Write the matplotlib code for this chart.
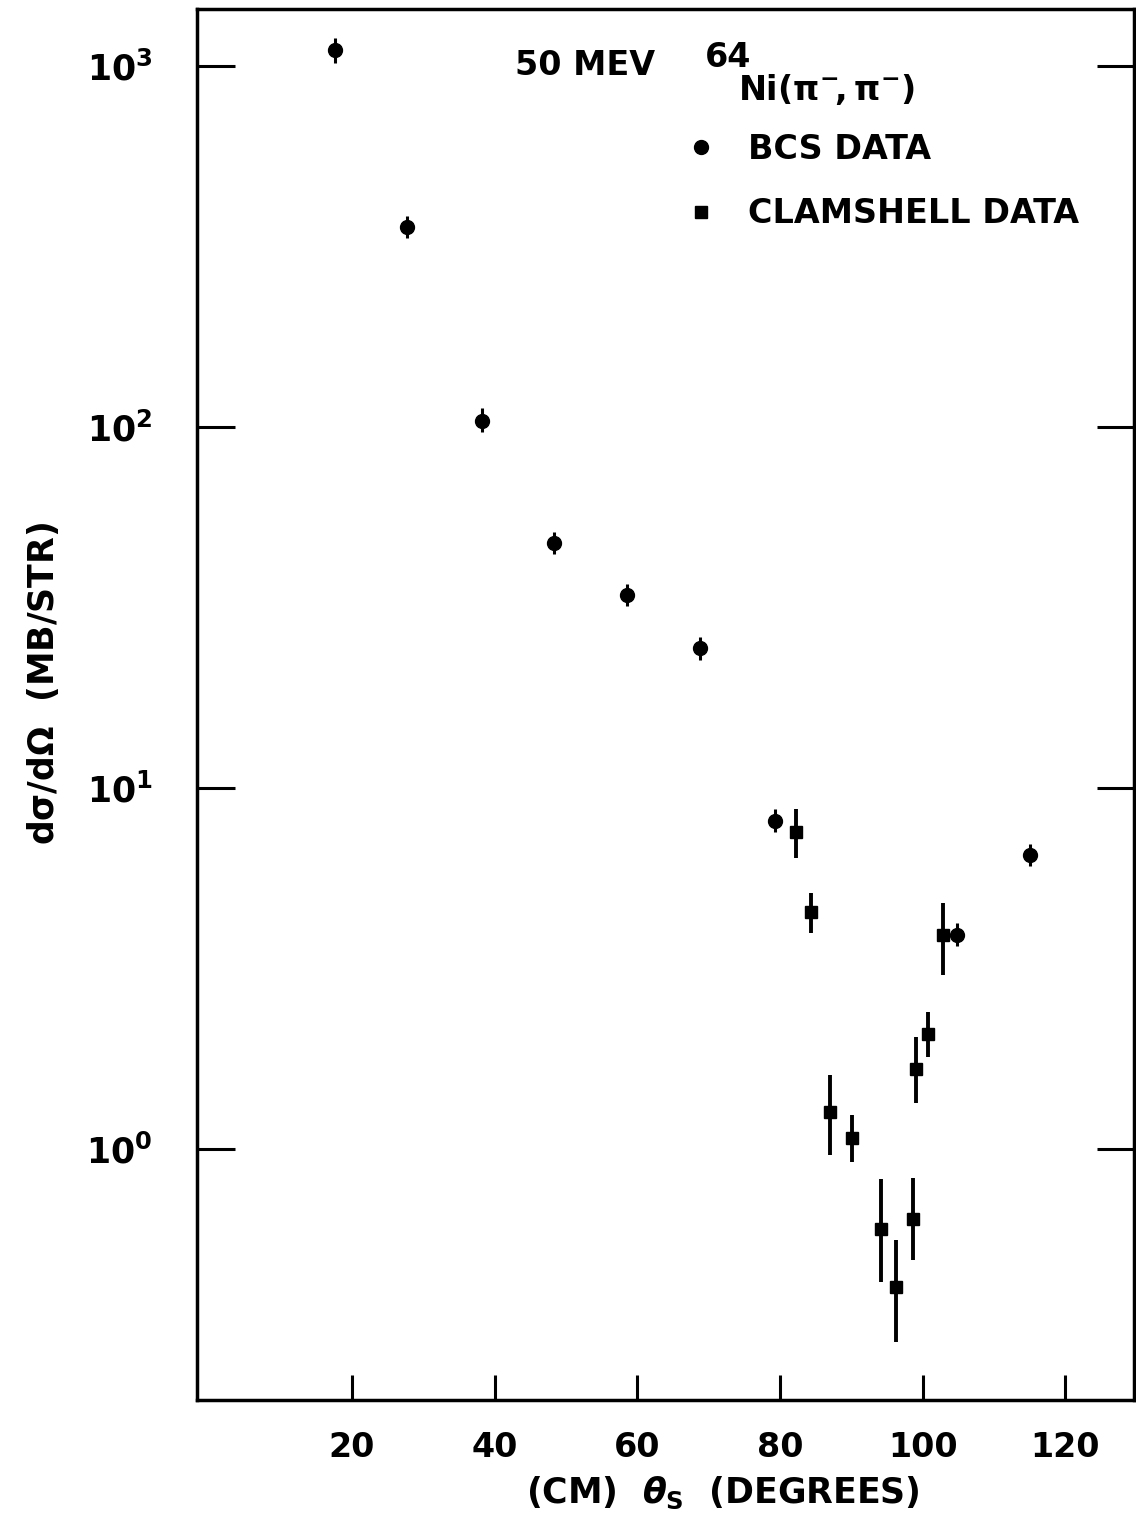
import numpy as np
import matplotlib
matplotlib.use("Agg")
import matplotlib.pyplot as plt
from matplotlib.lines import Line2D
from matplotlib.ticker import LogLocator, NullLocator, FixedLocator

# BCS data: scattering angle (deg), cross section and error limits (mb/sr)
bcs_theta = [17.6, 27.7, 38.3, 48.3, 58.5, 68.8, 79.3, 104.8, 115.0]
bcs_xs = [1107, 358, 104, 47.7, 34.3, 24.4, 8.12, 3.92, 6.52]
bcs_lo = [1019, 333, 97, 44.5, 32.0, 22.7, 7.55, 3.65, 6.07]
bcs_hi = [1196, 384, 113, 51.2, 36.8, 26.2, 8.73, 4.22, 7.01]

# Clamshell data
clam_theta = [82.2, 84.4, 87.0, 90.1, 94.1, 96.3, 98.6, 99.0, 100.8, 102.8]
clam_xs = [7.57, 4.54, 1.27, 1.071, 0.600, 0.416, 0.639, 1.666, 2.09, 3.92]
clam_lo = [6.40, 3.97, 0.962, 0.922, 0.429, 0.292, 0.493, 1.344, 1.80, 3.03]
clam_hi = [8.74, 5.12, 1.60, 1.24, 0.824, 0.56, 0.83, 2.04, 2.40, 4.79]

x_ticks = [20, 40, 60, 80, 100, 120]

plt.rcParams['font.family'] = ['DejaVu Sans']
plt.rcParams['font.weight'] = 'bold'
plt.rcParams['axes.labelweight'] = 'bold'
plt.rcParams['mathtext.fontset'] = 'dejavusans'
plt.rcParams['mathtext.default'] = 'regular'

W, H = 1136, 1531
fig = plt.figure(figsize=(W / 100, H / 100), dpi=100)
ax = fig.add_axes([197 / W, 1 - 1400 / H, (1134 - 197) / W, (1400 - 9) / H])

bcs = np.array(bcs_xs)
ax.errorbar(bcs_theta, bcs, yerr=[bcs - np.array(bcs_lo), np.array(bcs_hi) - bcs],
            fmt='o', color='black', markersize=10, elinewidth=2.2, capsize=0)
clam = np.array(clam_xs)
ax.errorbar(clam_theta, clam, yerr=[clam - np.array(clam_lo), np.array(clam_hi) - clam],
            fmt='s', color='black', markersize=9, elinewidth=2.8, capsize=0)

ax.set_yscale('log')
ax.set_xlim(-1.7, 129.6)
ax.set_ylim(10 ** -0.695, 10 ** 3.158)

ax.xaxis.set_major_locator(FixedLocator(x_ticks))
ax.yaxis.set_major_locator(LogLocator(base=10, numticks=10))
ax.yaxis.set_minor_locator(NullLocator())
ax.xaxis.set_minor_locator(NullLocator())

ax.tick_params(axis='x', direction='in', length=18, width=2.2, labelsize=24, pad=22)
ax.tick_params(axis='y', direction='in', length=27, width=2.2, labelsize=25, pad=32,
               left=True, right=True)
for s in ax.spines.values():
    s.set_linewidth(2.5)

ax.set_xlabel(r'(CM)  $\mathit{\theta}_{S}$  (DEGREES)', fontsize=25)
ax.xaxis.set_label_coords(0.561, -0.054)
ax.set_ylabel(r'd$\sigma$/d$\Omega$  (MB/STR)', fontsize=25)
ax.yaxis.set_label_coords(-0.145, 0.515)

# header text
fig.text(515 / W, 1 - 75 / H, '50 MEV', fontsize=24, va='baseline')
fig.text(705 / W, 1 - 67 / H, '64', fontsize=24, va='baseline')
fig.text(738 / W, 1 - 100 / H, r'Ni$(\pi^{-}\!,\pi^{-})$', fontsize=24, va='baseline')

handles = [Line2D([], [], marker='o', color='black', linestyle='none', markersize=10),
           Line2D([], [], marker='s', color='black', linestyle='none', markersize=8)]
fig.legend(handles, ['BCS DATA', 'CLAMSHELL DATA'], loc='upper left',
           bbox_to_anchor=(668 / W, 1 - 116 / H), frameon=False, fontsize=24,
           handlelength=1.0, handletextpad=0.9, labelspacing=0.95, borderpad=0)

fig.savefig('out.png', dpi=100)
